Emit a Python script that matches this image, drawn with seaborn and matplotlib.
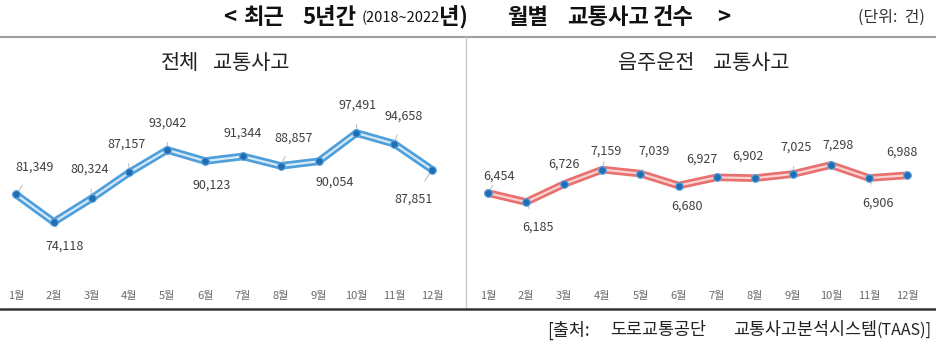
import numpy as np
import pandas as pd
import matplotlib
matplotlib.use("Agg")
import matplotlib.pyplot as plt
import seaborn as sns

# ---- data ----
months = ["1월", "2월", "3월", "4월", "5월", "6월", "7월", "8월", "9월", "10월", "11월", "12월"]
total_accidents = [81349, 74118, 80324, 87157, 93042, 90123, 91344, 88857, 90054, 97491, 94658, 87851]
drunk_accidents = [6454, 6185, 6726, 7159, 7039, 6680, 6927, 6902, 7025, 7298, 6906, 6988]
panel_title_words = [["전체", "교통사고"], ["음주운전", "교통사고"]]
title_words = ["<", "최근", "5년간", "(2018~2022", "년)", "월별", "교통사고", "건수", ">"]
unit_text = "(단위:  건)"
source_words = ["[출처:", "도로교통공단", "교통사고분석시스템", "(TAAS)]"]

sns.set_style("white")
plt.rcParams["font.family"] = ["Noto Sans CJK KR", "DejaVu Sans"]

W, H = 937, 343
fig = plt.figure(figsize=(W / 100, H / 100), dpi=100)


def px_axes(x0, y0, x1, y1):
    return fig.add_axes([x0 / W, 1 - y1 / H, (x1 - x0) / W, (y1 - y0) / H])


def ftext(x, y, s, **kw):
    fig.text(x / W, 1 - y / H, s, **kw)


# label offsets in pixels (dx, dy)
off_total = [(19, 27), (11, -24), (-2, 29), (-3, 28), (0, 27), (7, -24),
             (0, 23), (13, 28), (16, -21), (1, 28), (9, 28), (-19, -29)]
off_drunk = [(11, 17), (12, -25), (0, 20), (4, 18), (14, 22), (8, -21),
             (-15, 18), (-7, 22), (3, 27), (7, 20), (9, -25), (-5, 23)]

panels = [
    dict(vals=total_accidents, box=(0, 40, 465, 285), xlim=(0.577, 12.87),
         ylim=(57576, 121913), outer="#4E9FDA", inner="#D6EAF8", offs=off_total,
         words=panel_title_words[0], wx=[161, 213]),
    dict(vals=drunk_accidents, box=(467, 40, 935, 285), xlim=(0.449, 12.73),
         ylim=(3688, 11058), outer="#E8716F", inner="#F9D3D2", offs=off_drunk,
         words=panel_title_words[1], wx=[618, 713]),
]

for p in panels:
    ax = px_axes(*p["box"])
    df = pd.DataFrame({"m": np.arange(1, 13), "v": p["vals"]})
    sns.lineplot(data=df, x="m", y="v", ax=ax, color=p["outer"], lw=5.5,
                 solid_capstyle="round", solid_joinstyle="round")
    sns.lineplot(data=df, x="m", y="v", ax=ax, color=p["inner"], lw=1.6,
                 solid_joinstyle="round")
    sns.scatterplot(data=df, x="m", y="v", ax=ax, color="#1F6DB3", s=30,
                    edgecolor="#5BA3DE", linewidth=0.8, zorder=5)
    ax.set_xlim(*p["xlim"])
    ax.set_ylim(*p["ylim"])
    ax.set_xticks(range(1, 13))
    ax.set_xticklabels(months, fontsize=8, color="#6A6A6A", fontweight="medium")
    ax.tick_params(axis="x", length=0, pad=4)
    ax.set_yticks([])
    ax.set_xlabel("")
    ax.set_ylabel("")
    for s in ax.spines.values():
        s.set_visible(False)
    ax.patch.set_alpha(0)
    for i, v in enumerate(p["vals"]):
        dx, dy = p["offs"][i]
        ax.annotate(f"{v:,}", xy=(i + 1, v), xytext=(dx, dy),
                    textcoords="offset pixels", ha="center", va="center",
                    fontsize=9, color="#404040",
                    arrowprops=dict(arrowstyle="-", color="#C0C0C0", lw=0.8,
                                    shrinkA=7, shrinkB=3))
    for w, x in zip(p["words"], p["wx"]):
        ftext(x, 63, w, ha="left", va="center", fontsize=15, color="#222222")

# frame lines
fig.add_artist(plt.Line2D([0, 1], [1 - 37 / H, 1 - 37 / H], color="#A0A0A0", lw=1.5))
fig.add_artist(plt.Line2D([466 / W, 466 / W], [1 - 309 / H, 1 - 37 / H], color="#C8C8C8", lw=1))
fig.add_artist(plt.Line2D([0, 1], [1 - 309 / H, 1 - 309 / H], color="#333333", lw=1.8))

# main title, word by word
title_x = [223, 243, 302, 440, 439, 507, 567, 653, 717]
for w, x in zip(title_words, title_x):
    if w.startswith("(2018"):
        ftext(x, 18, w, ha="right", va="center", fontsize=10.5, color="#111111")
    else:
        ftext(x, 17, w, ha="left", va="center", fontsize=16, fontweight="bold",
              color="#111111")

ftext(925, 17, unit_text, ha="right", va="center", fontsize=11.5, color="#333333")

source_x = [547, 610, 733]
for w, x in zip(source_words[:3], source_x):
    ftext(x, 330, w, ha="left", va="center", fontsize=12.5, color="#222222")
ftext(877, 330, source_words[3], ha="left", va="center", fontsize=11.5, color="#222222")

fig.savefig("out.png", dpi=100, facecolor="white")
